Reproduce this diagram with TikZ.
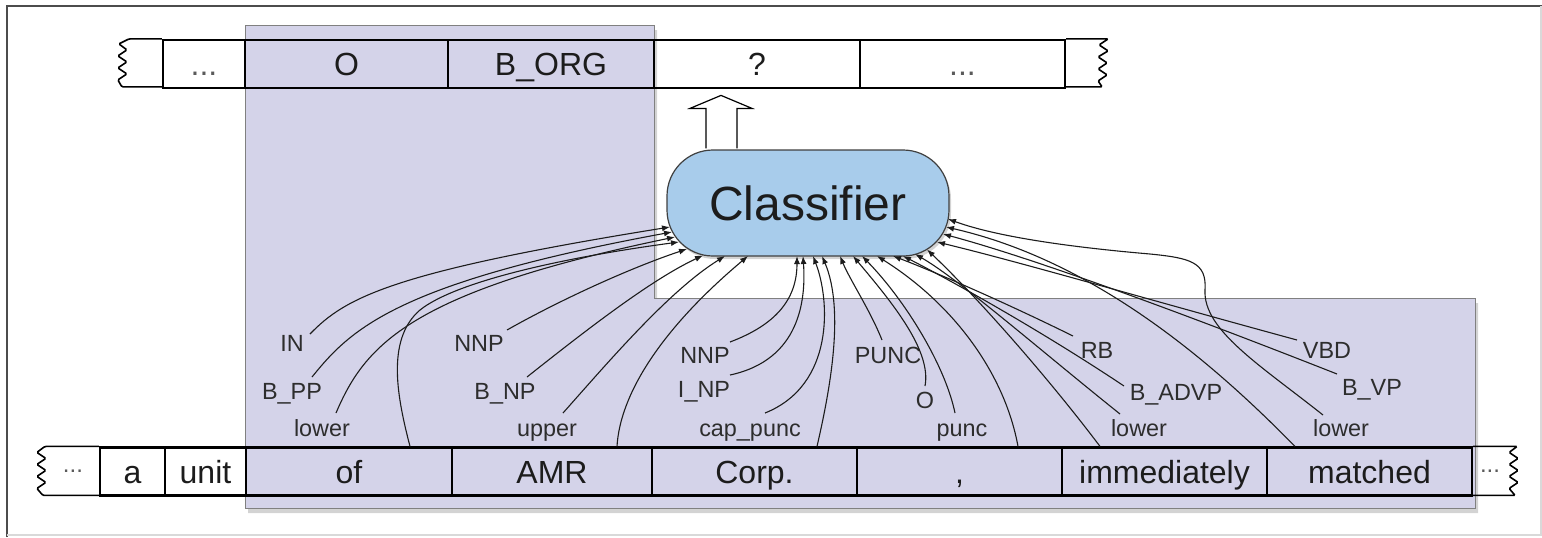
\documentclass[tikz,border=0pt]{standalone}
\usepackage{fontspec}
\setmainfont{Liberation Sans}
\usetikzlibrary{calc,shadows,arrows.meta}
\definecolor{lav}{RGB}{212,211,233}
\definecolor{clsblue}{RGB}{168,204,235}
\definecolor{ink}{RGB}{28,28,28}
\definecolor{lbl}{RGB}{45,45,45}
\definecolor{dotgray}{RGB}{90,90,90}
\newcommand\fCell{\fontsize{16}{19}\selectfont}
\newcommand\fLab{\fontsize{11.7}{14}\selectfont}
\newcommand\fCls{\fontsize{24}{28}\selectfont}
\newcommand\fDots{\fontsize{12}{14}\selectfont}
\begin{document}
\begin{tikzpicture}[x=0.5pt,y=-0.5pt,
  cell/.style={draw=black, line width=1.1pt, minimum height=24pt, inner sep=0pt, font=\fCell, text=ink,
     text height=11.5pt, text depth=0pt},
  endl/.style={draw=black, line width=0.8pt, rounded corners=0.6pt},
  lab/.style={font=\fLab, text=lbl, inner sep=1pt, text height=8.4pt, text depth=0pt},
  feat/.style={draw=ink, line width=0.55pt, -{Latex[length=4pt,width=3pt]}},
  clsbox/.style={draw=black!75, line width=0.6pt, fill=clsblue, rounded corners=23pt,
     minimum width=141pt, minimum height=53pt, inner sep=0pt, font=\fCls, text=ink,
     drop shadow={shadow xshift=1pt,shadow yshift=-1.5pt,opacity=0.35}},
  hollow/.style={draw=black, line width=0.6pt, fill=white, line join=miter},
  dots/.style={font=\fDots, text=dotgray, inner sep=0pt}
]
\useasboundingbox (0,0) rectangle (1542,537);
% frame
\draw[black!70, line width=0.8pt] (7,537) -- (7,6) -- (1542,6);
\draw[black!15, line width=0.8pt] (1541,6) -- (1541,535) -- (7,535);

% lavender L-shaped region
\fill[lav, draw=black!50, line width=0.5pt,
  drop shadow={shadow xshift=1.5pt,shadow yshift=-2.5pt,opacity=0.35}]
  (245,25) -- (654,25) -- (654,298) -- (1475,298) -- (1475,508) -- (245,508) -- cycle;

% top row
\node[cell, minimum width=41pt, text=dotgray] (td1) at (204,64) {...};
\node[cell, minimum width=101.5pt] (tO) at (346.5,64) {O};
\node[cell, minimum width=103pt] (tB) at (551,64) {B\_ORG};
\node[cell, minimum width=103pt] (tQ) at (757,64) {?};
\node[cell, minimum width=102.5pt, text=dotgray] (td2) at (962.5,64) {...};
\begin{scope}[shift={(td1.north west)}]
\draw[endl] (0,0) -- (-33,0) -- (-43,5) -- (-35,11) -- (-44,17) -- (-35,23) -- (-44,29) -- (-35,35) -- (-44,41) -- (-40,48) -- (0,48);
\end{scope}
\begin{scope}[shift={(td2.north east)}]
\draw[endl] (0,0) -- (42,0) -- (33,6) -- (42,12) -- (32,18) -- (41,24) -- (32,30) -- (41,36) -- (32,42) -- (36,48) -- (0,48);
\end{scope}

% bottom row
\node[cell, minimum width=32.5pt] (ba) at (132.5,471.5) {a};
\node[cell, minimum width=40.5pt] (bu) at (205.5,471.5) {unit};
\node[cell, minimum width=103pt] (of) at (349,471.5) {of};
\node[cell, minimum width=100pt] (AMR) at (552,471.5) {AMR};
\node[cell, minimum width=102.5pt] (Corp) at (754.5,471.5) {Corp.};
\node[cell, minimum width=102.5pt] (comma) at (959.5,471.5) {,};
\node[cell, minimum width=102.5pt] (imm) at (1164.5,471.5) {immediately};
\node[cell, minimum width=102.5pt] (mat) at (1369.5,471.5) {matched};
\node[dots] (bdl) at (73,471) {...};
\node[dots] (bdr) at (1490,471) {...};
\begin{scope}[shift={(ba.north west)}]
\draw[endl] (0,0) -- (-54,0) -- (-62,6) -- (-53,12) -- (-62,18) -- (-53,24) -- (-62,30) -- (-53,36) -- (-62,42) -- (-56,49) -- (0,49);
\end{scope}
\begin{scope}[shift={(mat.north east)}]
\draw[endl] (0,0) -- (44,0) -- (36,6) -- (45,12) -- (36,18) -- (45,24) -- (36,30) -- (45,36) -- (36,42) -- (42,49) -- (0,49);
\end{scope}

% classifier
\node[clsbox] (cls) at (808,203) {Classifier};
\draw[hollow] ($(cls.north)+(-102,-1)$) -- ++(0,-40) -- ++(-16,0) -- ++(31,-13) -- ++(31,13) -- ++(-15,0) -- ++(0,40);

% labels
\node[lab] (lIN) at (292,343) {IN};
\node[lab] (lBPP) at (292,391) {B\_PP};
\node[lab] (lLa) at (322,428) {lower};
\node[lab] (lNNPa) at (479,343) {NNP};
\node[lab] (lBNP) at (505,391) {B\_NP};
\node[lab] (lUp) at (547,428) {upper};
\node[lab] (lNNPc) at (705,355) {NNP};
\node[lab] (lINP) at (704,389) {I\_NP};
\node[lab] (lCap) at (750,428) {cap\_punc};
\node[lab] (lPUNC) at (888,355) {PUNC};
\node[lab] (lO) at (925,400) {O};
\node[lab] (lpunc) at (962,428) {punc};
\node[lab] (lRB) at (1097,350) {RB};
\node[lab] (lBADVP) at (1176,392) {B\_ADVP};
\node[lab] (lLi) at (1139,428) {lower};
\node[lab] (lVBD) at (1327,350) {VBD};
\node[lab] (lBVP) at (1372,387) {B\_VP};
\node[lab] (lLm) at (1341,428) {lower};

% feature connectors: "of"
\draw[feat] ($(lIN)+(18,-9)$) .. controls (345,298) and (390,272) .. ($(cls)+(-138,24)$);
\draw[feat] ($(lBPP)+(20,-14)$) .. controls (350,330) and (395,283) .. ($(cls)+(-136,29)$);
\draw[feat] ($(lLa)+(14,-15)$) .. controls (365,345) and (410,292) .. ($(cls)+(-133,34)$);
\draw[feat] ($(of.north)+(61,0)$) .. controls (398,400) and (385,340) .. (420,310) .. controls (455,282) and (560,258) .. ($(cls)+(-129,39)$);
% "AMR"
\draw[feat] ($(lNNPa)+(28,-13)$) .. controls (560,300) and (630,268) .. ($(cls)+(-121,46)$);
\draw[feat] ($(lBNP)+(22,-14)$) .. controls (580,335) and (650,280) .. ($(cls)+(-105,52.5)$);
\draw[feat] ($(lUp)+(16,-15)$) .. controls (610,360) and (670,290) .. ($(cls)+(-83,53)$);
\draw[feat] ($(AMR.north)+(65,0)$) .. controls (620,395) and (660,330) .. ($(cls)+(-60,53)$);
% "Corp."
\draw[feat] ($(lNNPc)+(25,-13)$) .. controls (775,325) and (797,300) .. ($(cls)+(-11,53)$);
\draw[feat] ($(lINP)+(26,-14)$) .. controls (800,360) and (806,300) .. ($(cls)+(-5,53)$);
\draw[feat] ($(lCap)+(15,-15)$) .. controls (835,385) and (830,300) .. ($(cls)+(5,53)$);
\draw[feat] ($(Corp.north)+(62.5,0)$) .. controls (830,390) and (845,310) .. ($(cls)+(14,53)$);
% ","
\draw[feat] ($(lPUNC)+(-6,-15)$) .. controls (870,310) and (850,280) .. ($(cls)+(32,53)$);
\draw[feat] ($(lO)+(0,-14)$) .. controls (932,350) and (890,300) .. ($(cls)+(45,53)$);
\draw[feat] ($(lpunc)+(-7,-15)$) .. controls (945,365) and (905,300) .. ($(cls)+(54,53)$);
\draw[feat] ($(comma.north)+(58.5,0)$) .. controls (1005,375) and (955,305) .. ($(cls)+(69,53)$);
% "immediately"
\draw[feat] ($(lRB)+(-24,-14)$) .. controls (1000,300) and (930,270) .. ($(cls)+(85,53)$);
\draw[feat] ($(lBADVP)+(-52,-6)$) .. controls (1040,330) and (950,280) .. ($(cls)+(95,53)$);
\draw[feat] ($(lLi)+(-19,-14)$) .. controls (1040,350) and (960,280) .. ($(cls)+(107,51)$);
\draw[feat] ($(imm.north)+(-64.5,0)$) .. controls (1050,380) and (980,300) .. ($(cls)+(119,46.5)$);
% "matched"
\draw[feat] ($(lVBD)+(-30,-10)$) .. controls (1150,300) and (1020,262) .. ($(cls)+(129,39)$);
\draw[feat] ($(lBVP)+(-35,-13)$) .. controls (1200,320) and (1040,260) .. ($(cls)+(135,31)$);
\draw[feat] ($(mat.north)+(-74.5,0)$) .. controls (1220,370) and (1100,262) .. ($(cls)+(138,24)$);
\draw[feat] ($(lLm)+(-18,-13)$) .. controls (1260,365) and (1203,330) .. (1205,290) .. controls (1207,262) and (1190,258) .. (1150,254) .. controls (1080,248) and (1000,238) .. ($(cls)+(140,16)$);
\end{tikzpicture}
\end{document}
